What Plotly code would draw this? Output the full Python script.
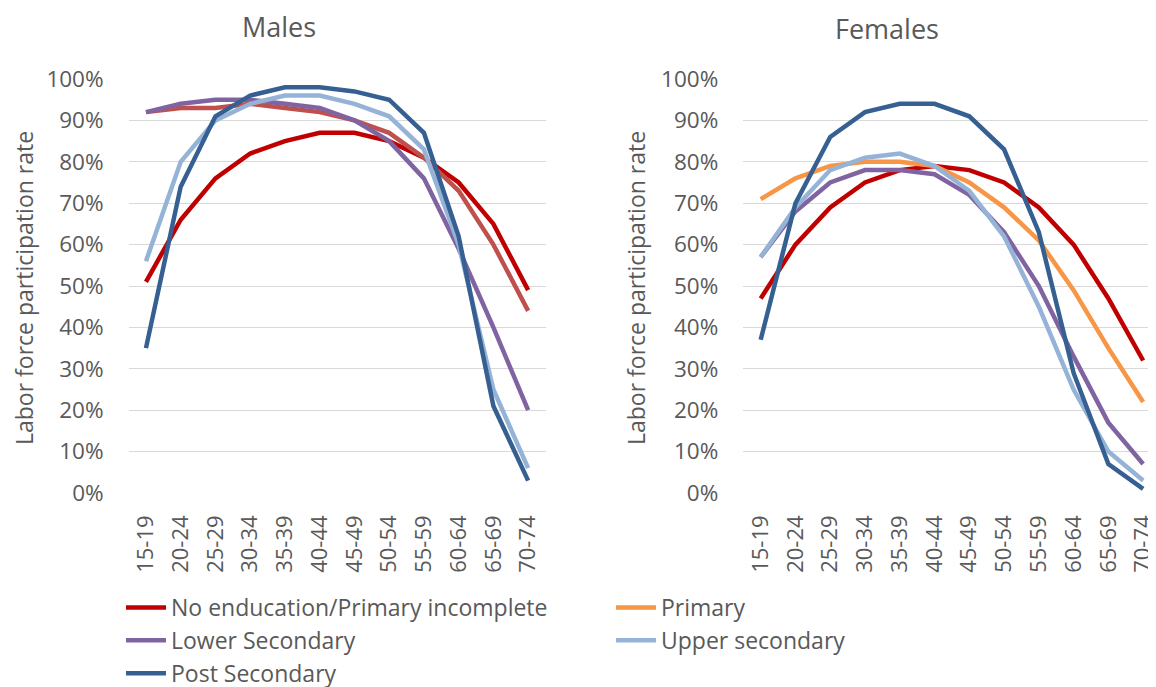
import plotly.graph_objects as go

age_groups = ["15-19", "20-24", "25-29", "30-34", "35-39", "40-44",
              "45-49", "50-54", "55-59", "60-64", "65-69", "70-74"]

series_names = ["No enducation/Primary incomplete", "Primary", "Lower Secondary",
                "Upper secondary", "Post Secondary"]

males_no_edu = [0.51, 0.66, 0.76, 0.82, 0.85, 0.87, 0.87, 0.85, 0.81, 0.75, 0.65, 0.49]
males_primary = [0.92, 0.93, 0.93, 0.94, 0.93, 0.92, 0.90, 0.87, 0.81, 0.73, 0.60, 0.44]
males_lower_sec = [0.92, 0.94, 0.95, 0.95, 0.94, 0.93, 0.90, 0.85, 0.76, 0.59, 0.40, 0.20]
males_upper_sec = [0.56, 0.80, 0.90, 0.94, 0.96, 0.96, 0.94, 0.91, 0.83, 0.60, 0.25, 0.06]
males_post_sec = [0.35, 0.74, 0.91, 0.96, 0.98, 0.98, 0.97, 0.95, 0.87, 0.62, 0.21, 0.03]

females_no_edu = [0.47, 0.60, 0.69, 0.75, 0.78, 0.79, 0.78, 0.75, 0.69, 0.60, 0.47, 0.32]
females_primary = [0.71, 0.76, 0.79, 0.80, 0.80, 0.79, 0.75, 0.69, 0.61, 0.49, 0.35, 0.22]
females_lower_sec = [0.57, 0.68, 0.75, 0.78, 0.78, 0.77, 0.72, 0.63, 0.50, 0.33, 0.17, 0.07]
females_upper_sec = [0.57, 0.69, 0.78, 0.81, 0.82, 0.79, 0.73, 0.62, 0.45, 0.25, 0.10, 0.03]
females_post_sec = [0.37, 0.70, 0.86, 0.92, 0.94, 0.94, 0.91, 0.83, 0.63, 0.29, 0.07, 0.01]

colors = ["#C00000", "#F79646", "#8064A2", "#95B3D7", "#376092"]
males_colors = ["#C00000", "#C0504D", "#8064A2", "#95B3D7", "#376092"]

FONT = "Open Sans"
TXT = "#595959"
W, H = 1156, 687
OFF = 8  # page body margin in the browser


def px(sx):
    return (sx - OFF) / W


def py(sy):
    return 1 - (sy - OFF) / H


fig = go.Figure()

males = [males_no_edu, males_primary, males_lower_sec, males_upper_sec, males_post_sec]
females = [females_no_edu, females_primary, females_lower_sec, females_upper_sec, females_post_sec]

for name, vals, c in zip(series_names, males, males_colors):
    fig.add_trace(go.Scatter(x=age_groups, y=vals, mode="lines", name=name,
                             line=dict(color=c, width=4.5), showlegend=False,
                             xaxis="x", yaxis="y"))
for name, vals, c in zip(series_names, females, colors):
    fig.add_trace(go.Scatter(x=age_groups, y=vals, mode="lines", name=name,
                             line=dict(color=c, width=4.5), showlegend=True,
                             xaxis="x2", yaxis="y2"))

ydom = [py(493), py(79)]
xaxis_common = dict(type="category", showgrid=False, showline=False, zeroline=False,
                    tickangle=-90, tickfont=dict(family=FONT, size=22, color=TXT),
                    ticks="", ticklabelstandoff=17, fixedrange=True)
yaxis_common = dict(range=[0, 1.0], dtick=0.1, tickformat=".0%", showgrid=True,
                    gridcolor="#D9D9D9", gridwidth=1.3, zeroline=False, showline=False,
                    tickfont=dict(family=FONT, size=22.5, color=TXT), ticks="",
                    ticklabelstandoff=24, fixedrange=True)

fig.update_layout(
    width=W, height=H,
    margin=dict(l=0, r=0, t=0, b=0, autoexpand=False),
    paper_bgcolor="white", plot_bgcolor="white",
    font=dict(family=FONT, color=TXT),
    xaxis=dict(domain=[px(128.6), px(545.5)], range=[-0.5, 11.5], **xaxis_common),
    yaxis=dict(domain=ydom, anchor="x", **yaxis_common),
    xaxis2=dict(domain=[px(743.3), px(1156)], range=[-0.5, 11.37], anchor="y2", **xaxis_common),
    yaxis2=dict(domain=ydom, anchor="x2", **yaxis_common),
    legend=dict(orientation="h", x=px(121), xanchor="left", y=py(586), yanchor="top",
                font=dict(family=FONT, size=23, color=TXT), entrywidth=435,
                entrywidthmode="pixels", tracegroupgap=0, itemwidth=40,
                bgcolor="rgba(0,0,0,0)"),
    annotations=[
        dict(text="Males", x=px(279), y=py(27), xref="paper", yref="paper",
             xanchor="center", yanchor="middle",
             showarrow=False, font=dict(family=FONT, size=27, color=TXT)),
        dict(text="Females", x=px(887), y=py(29), xref="paper", yref="paper",
             xanchor="center", yanchor="middle",
             showarrow=False, font=dict(family=FONT, size=27, color=TXT)),
        dict(text="Labor force participation rate", x=px(24), y=py(288),
             xref="paper", yref="paper", showarrow=False, textangle=-90,
             xanchor="center", yanchor="middle",
             font=dict(family=FONT, size=23, color=TXT)),
        dict(text="Labor force participation rate", x=px(636), y=py(288),
             xref="paper", yref="paper", showarrow=False, textangle=-90,
             xanchor="center", yanchor="middle",
             font=dict(family=FONT, size=23, color=TXT)),
    ],
)

fig.write_html("out.html")
